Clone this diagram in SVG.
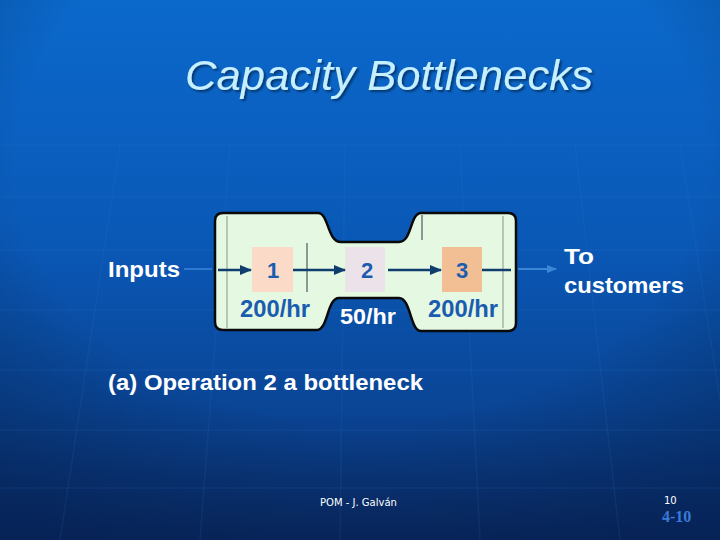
<svg xmlns="http://www.w3.org/2000/svg" width="720" height="540" viewBox="0 0 720 540">
<defs>
<linearGradient id="bg" x1="0" y1="0" x2="0" y2="1">
<stop offset="0" stop-color="#0b69cc"/>
<stop offset="0.45" stop-color="#0a58b6"/>
<stop offset="0.75" stop-color="#0a4596"/>
<stop offset="1" stop-color="#0a2c6a"/>
</linearGradient>
<radialGradient id="vig" cx="0.5" cy="0.3" r="0.8">
<stop offset="0.6" stop-color="#000" stop-opacity="0"/>
<stop offset="1" stop-color="#001030" stop-opacity="0.35"/>
</radialGradient>
<marker id="ah" viewBox="0 0 10 10" refX="9" refY="5" markerWidth="5" markerHeight="5" orient="auto">
<path d="M0,1 L10,5 L0,9 Z" fill="#0f3e6e"/>
</marker>
<marker id="ahl" viewBox="0 0 10 10" refX="9" refY="5" markerWidth="5" markerHeight="5" orient="auto">
<path d="M0,1 L10,5 L0,9 Z" fill="#3c86d8"/>
</marker>
<filter id="sh" x="-5%" y="-20%" width="110%" height="140%">
<feGaussianBlur in="SourceAlpha" stdDeviation="1"/>
<feOffset dx="2" dy="2"/>
<feComponentTransfer><feFuncA type="linear" slope="0.45"/></feComponentTransfer>
<feMerge><feMergeNode/><feMergeNode in="SourceGraphic"/></feMerge>
</filter>
</defs>
<style>
.grid{stroke:#3a86d8;stroke-opacity:0.11;stroke-width:1.5;fill:none}
.w{fill:#ffffff;font-family:"Liberation Sans",Arial,sans-serif;font-weight:bold;font-size:22px}
.num{fill:#1a5cb0;font-family:"Liberation Sans",Arial,sans-serif;font-weight:bold;font-size:22px;text-anchor:middle}
.rate{fill:#1a5cb0;font-family:"Liberation Sans",Arial,sans-serif;font-weight:bold;font-size:23px}
.conn{stroke:#0f3e6e;stroke-width:2.5;fill:none}
</style>
<rect width="720" height="540" fill="url(#bg)"/>
<rect width="720" height="540" fill="url(#vig)"/>
<g class="grid">
<line x1="0" y1="145" x2="720" y2="145"/>
<line x1="0" y1="197" x2="720" y2="197"/>
<line x1="0" y1="250" x2="720" y2="250"/>
<line x1="0" y1="310" x2="720" y2="310"/>
<line x1="0" y1="370" x2="720" y2="370"/>
<line x1="0" y1="430" x2="720" y2="430"/>
<line x1="0" y1="488" x2="720" y2="488"/>
<line x1="120" y1="145" x2="60" y2="540"/>
<line x1="230" y1="145" x2="200" y2="540"/>
<line x1="345" y1="145" x2="340" y2="540"/>
<line x1="460" y1="145" x2="480" y2="540"/>
<line x1="575" y1="145" x2="620" y2="540"/>
<line x1="680" y1="145" x2="720" y2="400"/>
</g>
<g id="title">
<text x="185" y="90" textLength="408" lengthAdjust="spacingAndGlyphs" filter="url(#sh)" fill="#c6efff" font-family="Liberation Sans, Arial, sans-serif" font-style="italic" font-size="43">Capacity Bottlenecks</text>
</g>
<g id="bottle">
<path d="M223 213 L318 213 C329 213 327 242 341 242 L399 242 C412 242 410 213 421 213 L508 213 Q516 213 516 221 L516 323 Q516 331 508 331 L421 331 C410 331 411 298 399 298 L339 298 C327 298 328 330 317 330 L223 330 Q215 330 215 322 L215 221 Q215 213 223 213 Z" fill="#e5f8e1" stroke="#0a0a0a" stroke-width="2.5"/>
<line x1="227" y1="216" x2="227" y2="328" stroke="#a8b4a8" stroke-width="1.5"/>
<line x1="503" y1="216" x2="503" y2="328" stroke="#a8b4a8" stroke-width="1.5"/>
<line x1="307" y1="243" x2="307" y2="292" stroke="#2a3a4a" stroke-width="1"/>
<line x1="422" y1="215" x2="422" y2="240" stroke="#2a3a4a" stroke-width="1"/>
</g>
<g id="op1">
<rect x="252" y="247" width="41" height="45" fill="#fbdac8"/>
<text x="273" y="278" class="num">1</text>
<text x="240" y="317" class="rate" textLength="70" lengthAdjust="spacingAndGlyphs">200/hr</text>
</g>
<g id="op2">
<rect x="345" y="247" width="40" height="45" fill="#ece3ea"/>
<text x="367" y="278" class="num">2</text>
<text x="340" y="324" class="w" textLength="56" lengthAdjust="spacingAndGlyphs">50/hr</text>
</g>
<g id="op3">
<rect x="442" y="247" width="40" height="45" fill="#f2bf95"/>
<text x="462" y="278" class="num">3</text>
<text x="428" y="317" class="rate" textLength="70" lengthAdjust="spacingAndGlyphs">200/hr</text>
</g>
<g id="connectors">
<line x1="218" y1="270" x2="251" y2="270" class="conn" marker-end="url(#ah)"/>
<line x1="293" y1="270" x2="345" y2="270" class="conn" marker-end="url(#ah)"/>
<line x1="388" y1="270" x2="441" y2="270" class="conn" marker-end="url(#ah)"/>
<line x1="482" y1="270" x2="511" y2="270" class="conn"/>
<line x1="184" y1="269" x2="212" y2="269" stroke="#2f7ad0" stroke-width="2"/>
<line x1="518" y1="269" x2="556" y2="269" stroke="#3c86d8" stroke-width="2" marker-end="url(#ahl)"/>
</g>
<g id="inputs">
<text x="108" y="277" class="w" textLength="72" lengthAdjust="spacingAndGlyphs">Inputs</text>
</g>
<g id="customers">
<text x="564" y="264" class="w" textLength="30" lengthAdjust="spacingAndGlyphs">To</text>
<text x="564" y="293" class="w" textLength="120" lengthAdjust="spacingAndGlyphs">customers</text>
</g>
<text x="108" y="390" class="w" textLength="315" lengthAdjust="spacingAndGlyphs">(a) Operation 2 a bottleneck</text>
<text x="320" y="506" fill="#ffffff" font-family="DejaVu Sans, Verdana, sans-serif" font-size="10">POM - J. Galván</text>
<text x="664" y="504" fill="#ffffff" font-family="DejaVu Sans, Verdana, sans-serif" font-size="10">10</text>
<text x="662" y="522" fill="#3a7ad8" font-family="Liberation Serif, Times New Roman, serif" font-weight="bold" font-size="16">4-10</text>
</svg>
